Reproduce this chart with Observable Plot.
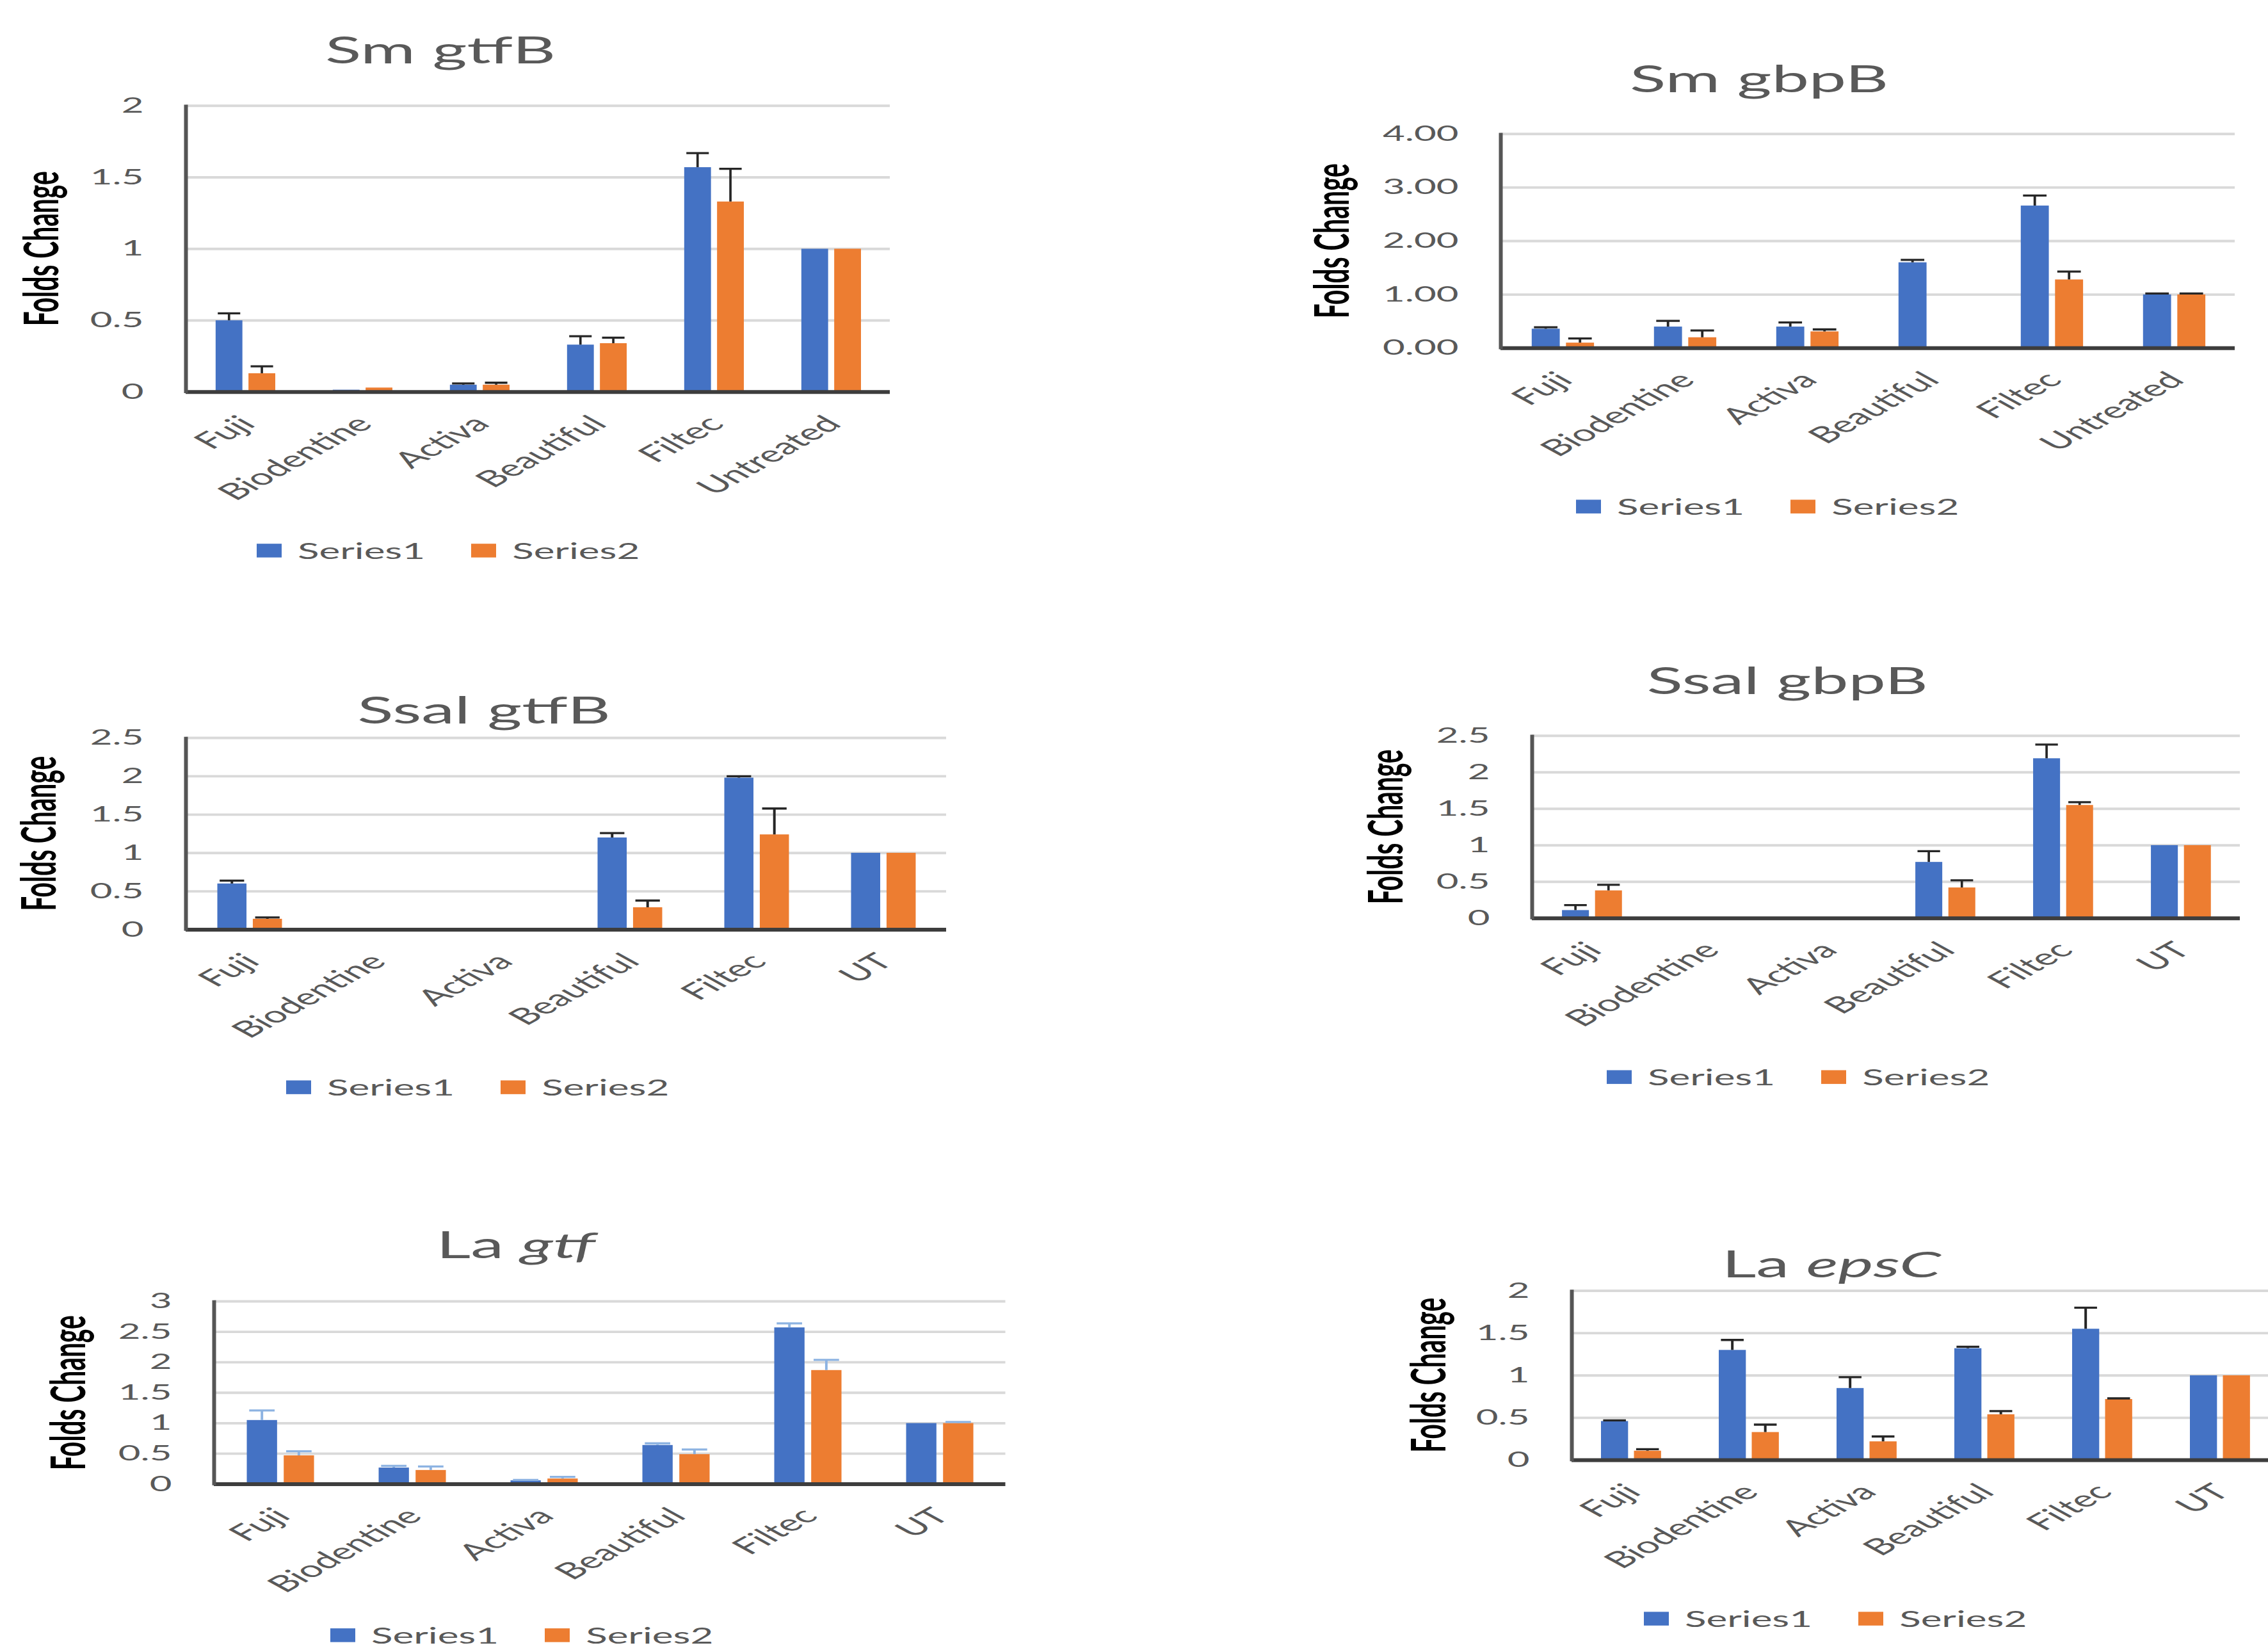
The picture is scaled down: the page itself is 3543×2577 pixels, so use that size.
<!DOCTYPE html>
<html><head><meta charset="utf-8">
<script src="https://cdn.jsdelivr.net/npm/d3@7"></script>
<script src="https://cdn.jsdelivr.net/npm/@observablehq/plot@0.6"></script>
<style>
html,body{margin:0;padding:0;background:#fff;}
body{width:3543px;height:2577px;overflow:hidden;position:relative;font-family:Lato,"Open Sans",sans-serif;}
#stage{position:absolute;left:0;top:0;width:3543px;transform-origin:0 0;}
.title{position:absolute;font-size:104px;color:#595959;white-space:nowrap;line-height:1;transform:translate(-50%,-50%);}
.ytitle{position:absolute;font-size:74px;font-weight:bold;color:#000;white-space:nowrap;line-height:1;transform:translate(-50%,-50%) rotate(-90deg);}
.legend{position:absolute;display:flex;align-items:center;transform:translateY(-50%);font-size:62px;color:#595959;white-space:nowrap;line-height:1;}
.sw{width:39px;height:39px;margin-right:25px;}
.lt{margin-right:72px;}
.panel{position:absolute;}
</style></head><body><div id="stage"></div>
<script>
// ---------- data ----------
const catsLong = ["Fuji", "Biodentine", "Activa", "Beautiful", "Filtec", "Untreated"];
const catsShort = ["Fuji", "Biodentine", "Activa", "Beautiful", "Filtec", "UT"];
const seriesNames = ["Series1", "Series2"];
const seriesColors = ["#4472C4", "#ED7D31"];

const ticks2 = [0, 0.5, 1, 1.5, 2];
const ticks25 = [0, 0.5, 1, 1.5, 2, 2.5];
const ticks3 = [0, 0.5, 1, 1.5, 2, 2.5, 3];
const ticks4 = [0, 1, 2, 3, 4];

// Sm gtfB
const smGtfB_s1 = [0.50, 0.015, 0.05, 0.33, 1.57, 1.00];
const smGtfB_e1 = [0.05, 0, 0.01, 0.06, 0.10, 0];
const smGtfB_s2 = [0.13, 0.03, 0.05, 0.34, 1.33, 1.00];
const smGtfB_e2 = [0.05, 0, 0.015, 0.04, 0.23, 0];
// Sm gbpB
const smGbpB_s1 = [0.36, 0.40, 0.40, 1.60, 2.66, 1.00];
const smGbpB_e1 = [0.03, 0.11, 0.08, 0.05, 0.19, 0.02];
const smGbpB_s2 = [0.10, 0.20, 0.31, 0, 1.28, 1.00];
const smGbpB_e2 = [0.08, 0.13, 0.04, 0, 0.15, 0.02];
// Ssal gtfB
const ssGtfB_s1 = [0.60, 0, 0, 1.20, 1.98, 1.00];
const ssGtfB_e1 = [0.04, 0, 0, 0.06, 0.02, 0];
const ssGtfB_s2 = [0.14, 0, 0, 0.29, 1.24, 1.00];
const ssGtfB_e2 = [0.02, 0, 0, 0.09, 0.34, 0];
// Ssal gbpB
const ssGbpB_s1 = [0.11, 0, 0, 0.77, 2.19, 1.00];
const ssGbpB_e1 = [0.07, 0, 0, 0.15, 0.19, 0];
const ssGbpB_s2 = [0.38, 0, 0, 0.42, 1.55, 1.00];
const ssGbpB_e2 = [0.08, 0, 0, 0.10, 0.04, 0];
// La gtf
const laGtf_s1 = [1.05, 0.27, 0.06, 0.64, 2.57, 1.00];
const laGtf_e1 = [0.16, 0.03, 0.01, 0.03, 0.07, 0];
const laGtf_s2 = [0.47, 0.23, 0.09, 0.49, 1.87, 1.00];
const laGtf_e2 = [0.07, 0.06, 0.03, 0.08, 0.17, 0.02];
// La epsC
const laEps_s1 = [0.46, 1.30, 0.85, 1.32, 1.55, 1.00];
const laEps_e1 = [0.01, 0.12, 0.13, 0.02, 0.25, 0];
const laEps_s2 = [0.11, 0.33, 0.22, 0.54, 0.72, 1.00];
const laEps_e2 = [0.02, 0.09, 0.06, 0.04, 0.01, 0];

// ---------- layout (page pixels) ----------
const K = 0.55; // vertical squash of the whole figure
const plainFmt = d => String(d);
const panels = [
  {t: "Sm gtfB", ti: "", cats: catsLong, s: [smGtfB_s1, smGtfB_s2], e: [smGtfB_e1, smGtfB_e2], ticks: ticks2, fmt: plainFmt, err: "#262626",
   L: {ax: 290, right: 1390, top: 165, zero: 612, tx: 688, ty: 77, yx: 63, legX: 401, legY: 860}},
  {t: "Sm gbpB", ti: "", cats: catsLong, s: [smGbpB_s1, smGbpB_s2], e: [smGbpB_e1, smGbpB_e2], ticks: ticks4, fmt: d3.format(".2f"), err: "#262626",
   L: {ax: 2344, right: 3491, top: 209, zero: 543.5, tx: 2748, ty: 122, yx: 2079, legX: 2462, legY: 791}},
  {t: "Ssal gtfB", ti: "", cats: catsShort, s: [ssGtfB_s1, ssGtfB_s2], e: [ssGtfB_e1, ssGtfB_e2], ticks: ticks25, fmt: plainFmt, err: "#262626",
   L: {ax: 290, right: 1478, top: 1152, zero: 1451.5, tx: 756, ty: 1108, yx: 59, legX: 447, legY: 1698}},
  {t: "Ssal gbpB", ti: "", cats: catsShort, s: [ssGbpB_s1, ssGbpB_s2], e: [ssGbpB_e1, ssGbpB_e2], ticks: ticks25, fmt: plainFmt, err: "#262626",
   L: {ax: 2393, right: 3499, top: 1149, zero: 1434, tx: 2792, ty: 1062, yx: 2163, legX: 2510, legY: 1682}},
  {t: "La ", ti: "gtf", cats: catsShort, s: [laGtf_s1, laGtf_s2], e: [laGtf_e1, laGtf_e2], ticks: ticks3, fmt: plainFmt, err: "#8db3e2",
   L: {ax: 333.5, right: 1570, top: 2032.5, zero: 2318, tx: 806, ty: 1943, yx: 105, legX: 516, legY: 2554}},
  {t: "La ", ti: "epsC", cats: catsShort, s: [laEps_s1, laEps_s2], e: [laEps_e1, laEps_e2], ticks: ticks2, fmt: plainFmt, err: "#262626",
   L: {ax: 2455, right: 3559, top: 2015.5, zero: 2280, tx: 2861, ty: 1973, yx: 2230, legX: 2568, legY: 2528}}
];

const stage = document.getElementById("stage");
stage.style.height = (2577 / K) + "px";
stage.style.transform = `scale(1, ${K})`;

const barFrac = [[0.25, 0.48], [0.53, 0.76]];

function build(p) {
  const L = p.L;
  const mL = 200, mR = 10, mT = 10, mB = 380;
  const plotW = L.right - L.ax;
  const plotH = (L.zero - L.top) / K;
  const b = plotW / p.cats.length;
  const marks = [];
  marks.push(Plot.ruleY(p.ticks.filter(t => t > 0), {stroke: "#d9d9d9", strokeWidth: 7}));
  marks.push(Plot.axisY({ticks: p.ticks, tickSize: 0, tickPadding: 66, fontSize: 60, color: "#595959", tickFormat: p.fmt, label: null}));
  marks.push(Plot.axisX({tickRotate: -45, tickSize: 0, tickPadding: 80, dx: 4, fontSize: 64, color: "#595959", label: null}));
  for (let s = 0; s < 2; s++) {
    const rows = p.cats.map((c, i) => ({cat: c, v: p.s[s][i], e: p.e[s][i]}));
    const fr = barFrac[s];
    marks.push(Plot.barY(rows, {x: "cat", y: "v", fill: seriesColors[s], insetLeft: fr[0] * b, insetRight: (1 - fr[1]) * b}));
    const er = rows.filter(d => d.e > 0);
    const c = (fr[0] + fr[1]) / 2 * b;
    const bw = (fr[1] - fr[0]) * b;
    marks.push(Plot.barY(er, {x: "cat", y1: "v", y2: d => d.v + d.e, fill: p.err, insetLeft: c - 2, insetRight: b - c - 2}));
    marks.push(Plot.tickY(er, {x: "cat", y: d => d.v + d.e, stroke: p.err, strokeWidth: 6, insetLeft: c - bw * 0.42, insetRight: b - c - bw * 0.42}));
  }
  marks.push(Plot.ruleY([0], {stroke: "#3d3d3d", strokeWidth: 11}));
  marks.push(Plot.frame({anchor: "left", stroke: "#555555", strokeWidth: 6}));

  const svg = Plot.plot({
    width: mL + plotW + mR, height: mT + plotH + mB,
    marginLeft: mL, marginRight: mR, marginTop: mT, marginBottom: mB,
    style: {fontFamily: "Lato, 'Open Sans', sans-serif", background: "transparent", overflow: "visible", maxWidth: "none"},
    x: {type: "band", domain: p.cats, paddingInner: 0, paddingOuter: 0, label: null},
    y: {domain: [0, d3.max(p.ticks)], label: null},
    marks
  });
  const div = document.createElement("div");
  div.className = "panel";
  div.style.left = (L.ax - mL) + "px";
  div.style.top = (L.top / K - mT) + "px";
  div.style.width = (mL + plotW + mR) + "px";
  div.appendChild(svg);
  stage.appendChild(div);

  const t = document.createElement("div");
  t.className = "title";
  t.style.left = L.tx + "px";
  t.style.top = (L.ty / K) + "px";
  t.appendChild(document.createTextNode(p.t));
  if (p.ti) { const it = document.createElement("i"); it.textContent = p.ti; t.appendChild(it); }
  stage.appendChild(t);

  const yt = document.createElement("div");
  yt.className = "ytitle";
  yt.style.left = L.yx + "px";
  yt.style.top = (((L.top + L.zero) / 2) / K) + "px";
  yt.textContent = "Folds Change";
  stage.appendChild(yt);

  const lg = document.createElement("div");
  lg.className = "legend";
  lg.style.left = L.legX + "px";
  lg.style.top = (L.legY / K) + "px";
  seriesNames.forEach((n, i) => {
    const sw = document.createElement("span"); sw.className = "sw"; sw.style.background = seriesColors[i];
    const tx = document.createElement("span"); tx.className = "lt"; tx.textContent = n;
    lg.appendChild(sw); lg.appendChild(tx);
  });
  stage.appendChild(lg);
}
panels.forEach(build);
</script></body></html>
